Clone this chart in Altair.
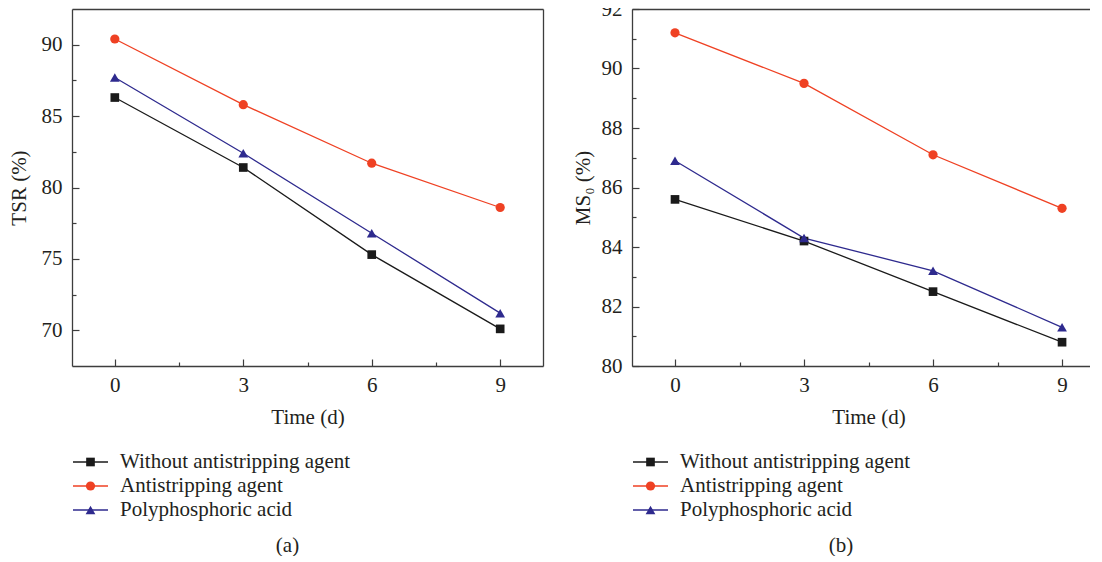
import altair as alt
import pandas as pd

# ---------------- data ----------------
days = [0, 3, 6, 9]
series_names = ["Without antistripping agent", "Antistripping agent", "Polyphosphoric acid"]
series_colors = ["#1a1a1a", "#ef4123", "#2e2a8e"]
series_shapes = ["square", "circle", "triangle-up"]
marker_sizes = [75, 95, 110]
legend_marker_sizes = [42, 55, 62]

tsr_without = [86.3, 81.4, 75.3, 70.1]
tsr_anti = [90.4, 85.8, 81.7, 78.6]
tsr_poly = [87.7, 82.4, 76.8, 71.2]

ms0_without = [85.6, 84.2, 82.5, 80.8]
ms0_anti = [91.2, 89.5, 87.1, 85.3]
ms0_poly = [86.9, 84.3, 83.2, 81.3]

x_tick_values = [0, 1.5, 3, 4.5, 6, 7.5, 9]
tsr_tick_values = [70, 72.5, 75, 77.5, 80, 82.5, 85, 87.5, 90]
ms0_tick_values = [80, 81, 82, 83, 84, 85, 86, 87, 88, 89, 90, 91, 92]

FONT = "Liberation Serif"
TEXT = "#231f20"
FRAME = "#3d3d3d"


def long_df(a, b, c):
    rows = []
    for name, vals in zip(series_names, [a, b, c]):
        for d, v in zip(days, vals):
            rows.append({"day": d, "value": v, "series": name})
    return pd.DataFrame(rows)


color_scale = alt.Scale(domain=series_names, range=series_colors)
shape_scale = alt.Scale(domain=series_names, range=series_shapes)


def panel(df, ydomain, yticks, ymajor, ytitle, xdomain, width, height,
          right_border, ytitle_pad, xtitle_x=None):
    xscale = alt.Scale(domain=xdomain, nice=False, zero=False)
    yscale = alt.Scale(domain=ydomain, nice=False, zero=False)
    xaxis_kw = dict(
        orient="bottom", values=x_tick_values, title="Time (d)",
        labelExpr="datum.value % 3 === 0 ? datum.label : ''",
        tickSize={"expr": "-7"}, labelPadding=15.5, titlePadding=11,
        grid=False, domain=True, domainColor=FRAME, domainWidth=1.3,
        tickColor=FRAME, tickWidth=1.2, labelOverlap=False, labelFlush=False,
        labelFont=FONT, labelFontSize=21, labelColor=TEXT,
        titleFont=FONT, titleFontSize=21, titleColor=TEXT, titleFontWeight="normal",
        tickDash={"condition": {"test": "datum.value % 3 !== 0", "value": [4, 20]}, "value": []},
    )
    if xtitle_x is not None:
        xaxis_kw["titleX"] = xtitle_x
    xaxis = alt.Axis(**xaxis_kw)
    yaxis = alt.Axis(
        orient="left", values=yticks, title=ytitle,
        labelExpr="datum.value %% %s === 0 ? datum.label : ''" % ymajor,
        tickSize={"expr": "-7"}, labelPadding=17, titlePadding=ytitle_pad,
        grid=False, domain=True, domainColor=FRAME, domainWidth=1.3,
        tickColor=FRAME, tickWidth=1.2, labelOverlap=False, labelFlush=False,
        labelFont=FONT, labelFontSize=21, labelColor=TEXT,
        titleFont=FONT, titleFontSize=21, titleColor=TEXT, titleFontWeight="normal",
        tickDash={"condition": {"test": "datum.value %% %s !== 0" % ymajor, "value": [4, 20]}, "value": []},
    )
    base = alt.Chart(df)
    lines = base.mark_line(strokeWidth=1.3).encode(
        x=alt.X("day:Q", scale=xscale, axis=xaxis),
        y=alt.Y("value:Q", scale=yscale, axis=yaxis),
        color=alt.Color("series:N", scale=color_scale, legend=None),
        detail="series:N",
    )
    top_axis = alt.Axis(orient="top", labels=False, ticks=False, title=None, grid=False,
                        domain=True, domainColor=FRAME, domainWidth=1.3)
    right_axis = alt.Axis(orient="right", labels=False, ticks=False, title=None, grid=False,
                          domain=right_border, domainColor=FRAME, domainWidth=1.3)
    pts = base.mark_point(filled=True, opacity=1).encode(
        x=alt.X("day:Q", scale=xscale, axis=top_axis),
        y=alt.Y("value:Q", scale=yscale, axis=right_axis),
        color=alt.Color("series:N", scale=color_scale, legend=None),
        shape=alt.Shape("series:N", scale=shape_scale, legend=None),
        size=alt.Size("series:N", scale=alt.Scale(domain=series_names, range=marker_sizes),
                      legend=None),
    )
    return alt.layer(lines, pts).properties(width=width, height=height)


def legend_chart(caption, width):
    leg_df = pd.DataFrame({"series": series_names})
    yenc = alt.Y("series:N", sort=series_names, axis=None,
                 scale=alt.Scale(type="point", padding=0.5))
    lb = alt.Chart(leg_df)
    rule = lb.mark_rule(strokeWidth=1.3).encode(
        y=yenc, x=alt.value(1), x2=alt.value(36),
        color=alt.Color("series:N", scale=color_scale, legend=None),
    )
    sym = lb.mark_point(filled=True, opacity=1).encode(
        y=yenc, x=alt.value(18.5),
        color=alt.Color("series:N", scale=color_scale, legend=None),
        shape=alt.Shape("series:N", scale=shape_scale, legend=None),
        size=alt.Size("series:N", scale=alt.Scale(domain=series_names, range=legend_marker_sizes),
                      legend=None),
    )
    txt = lb.mark_text(align="left", baseline="middle", font=FONT, fontSize=21).encode(
        y=yenc, x=alt.value(48), text="series:N", color=alt.value(TEXT),
    )
    return alt.layer(rule, sym, txt).properties(
        width=width, height=72,
        title=alt.TitleParams(caption, orient="bottom", anchor="middle", dx=-20, offset=13,
                              font=FONT, fontSize=21, fontWeight="normal", color=TEXT),
    )


df_a = long_df(tsr_without, tsr_anti, tsr_poly)
df_b = long_df(ms0_without, ms0_anti, ms0_poly)

plot_a = panel(df_a, [67.5, 92.5], tsr_tick_values, 5, "TSR (%)", [-1, 10], 471, 357,
               True, 12)
plot_b = panel(df_b, [80, 92], ms0_tick_values, 2, "MS\u2080 (%)", [-1, 9.65], 458, 357,
               False, 8, xtitle_x=236.5)

leg_a = legend_chart("(a)", 471)
leg_b = legend_chart("(b)", 458)

chart = alt.concat(
    plot_a, plot_b, leg_a, leg_b,
    columns=2, spacing={"row": 84, "column": 89}, bounds="flush",
).properties(
    padding={"left": 0, "top": -10, "right": 0, "bottom": 0},
).configure_view(stroke=None)

chart.save("out.html", embed_options={"renderer": "svg", "actions": False})
